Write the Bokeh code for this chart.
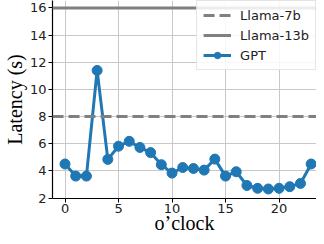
from bokeh.plotting import figure
from bokeh.models import Range1d, Span, FixedTicker, Legend, LegendItem
from bokeh.embed import file_html
from bokeh.resources import INLINE

hours = list(range(24))
gpt_latency = [4.51, 3.62, 3.62, 11.40, 4.85, 5.82, 6.18, 5.73, 5.35, 4.46,
               3.84, 4.25, 4.18, 4.06, 4.87, 3.62, 3.94, 2.93, 2.72, 2.67,
               2.72, 2.84, 3.08, 4.51]
llama7b_latency = 8
llama13b_latency = 16
x_ticks = [0, 5, 10, 15, 20]
y_ticks = [2, 4, 6, 8, 10, 12, 14, 16]

p = figure(width=316, height=236, output_backend="svg", toolbar_location=None,
           x_range=Range1d(-1.17, 23.5), y_range=Range1d(1.97, 16.55),
           min_border_left=48, min_border_right=0, min_border_top=0,
           min_border_bottom=30)
p.outline_line_color = None
p.background_fill_color = "white"

for ax in (p.xaxis, p.yaxis):
    ax.axis_line_color = "black"
    ax.axis_line_width = 1.2
    ax.major_tick_line_color = "black"
    ax.major_tick_out = 4
    ax.major_tick_in = 0
    ax.minor_tick_line_color = None
    ax.major_label_text_font = "DejaVu Sans"
    ax.major_label_text_font_size = "13px"
    ax.major_label_text_color = "#222222"
    ax.major_label_text_line_height = 1.0
    ax.major_label_standoff = 2
    ax.axis_label_text_font = "Liberation Serif"
    ax.axis_label_text_font_size = "20px"
    ax.axis_label_text_font_style = "normal"
    ax.axis_label_text_color = "black"
    ax.axis_label_text_line_height = 1.0
    ax.axis_label_standoff = 1

p.xaxis.axis_label_standoff = -4
p.xaxis.major_label_standoff = 1

p.xaxis.ticker = FixedTicker(ticks=x_ticks)
p.yaxis.ticker = FixedTicker(ticks=y_ticks)
p.xaxis.axis_label = "o\u2019clock"
p.yaxis.axis_label = "Latency (s)"

p.xgrid.grid_line_color = "#c8c8c8"
p.ygrid.grid_line_color = "#c8c8c8"
p.xgrid.grid_line_width = 1
p.ygrid.grid_line_width = 1
p.xgrid.ticker = FixedTicker(ticks=x_ticks)
p.ygrid.ticker = FixedTicker(ticks=y_ticks)

gray = "#808080"
blue = "#1f77b4"

s7 = Span(location=llama7b_latency, dimension="width", line_color=gray,
          line_width=3, line_dash="11 5")
s13 = Span(location=llama13b_latency, dimension="width", line_color=gray,
           line_width=3)
p.add_layout(s7)
p.add_layout(s13)

# single-point line renderers used only to supply legend swatches
r7 = p.line(x=hours[:1], y=[llama7b_latency], line_color=gray, line_width=3,
            line_dash="11 5")
r13 = p.line(x=hours[:1], y=[llama13b_latency], line_color=gray, line_width=3)

gl = p.line(hours, gpt_latency, line_color=blue, line_width=3)
gs = p.scatter(hours, gpt_latency, size=10, fill_color=blue, line_color=blue)

legend = Legend(items=[LegendItem(label="Llama-7b", renderers=[r7]),
                       LegendItem(label="Llama-13b", renderers=[r13]),
                       LegendItem(label="GPT", renderers=[gl, gs])],
                location="top_right")
legend.label_text_font = "DejaVu Sans"
legend.label_text_font_size = "13px"
legend.label_text_color = "#222222"
legend.glyph_width = 28
legend.glyph_height = 16
legend.label_standoff = 9
legend.spacing = 4
legend.padding = 6
legend.margin = 0
legend.border_line_color = "#cccccc"
legend.background_fill_alpha = 0.85
p.add_layout(legend)

open("out.html", "w").write(file_html(p, INLINE))
